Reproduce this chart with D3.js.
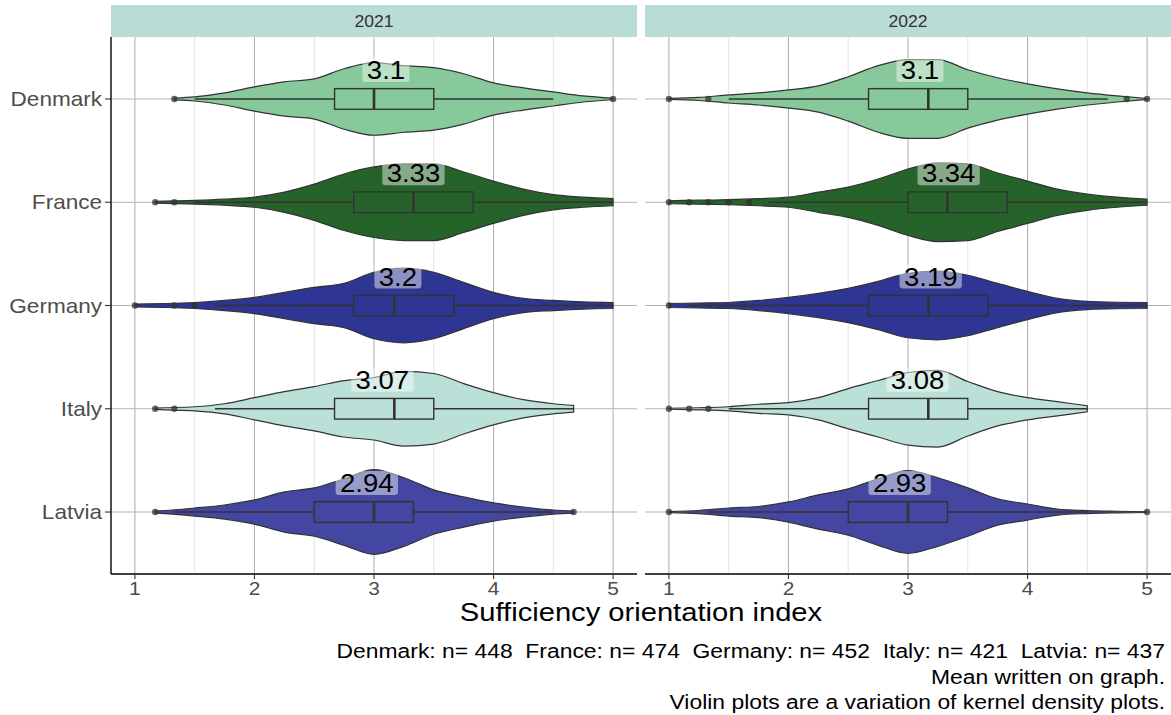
<!DOCTYPE html>
<html>
<head>
<meta charset="utf-8">
<script src="https://cdn.jsdelivr.net/npm/d3@7"></script>
<style>
  html, body { margin: 0; padding: 0; background: #ffffff; }
  svg { display: block; font-family: "Liberation Sans", Arial, Helvetica, sans-serif; }
  .pre { white-space: pre; }
</style>
</head>
<body>
<svg id="chart" width="1171" height="715"></svg>
<script>
// Countries (rows) and survey years (facets)
const countries = ["Denmark", "France", "Germany", "Italy", "Latvia"];
const years = ["2021", "2022"];
const sampleSizes = [448, 474, 452, 421, 437];

// Mean sufficiency orientation index per country, by year
const means2021 = [3.1, 3.33, 3.2, 3.07, 2.94];
const means2022 = [3.1, 3.34, 3.19, 3.08, 2.93];

// Kernel density estimates (relative units) on a common score grid
const scoreGrid = [1, 1.25, 1.5, 1.75, 2, 2.25, 2.5, 2.75, 3, 3.25, 3.5, 3.75, 4, 4.25, 4.5, 4.75, 5];
const density2021 = [
  [0, 0.3, 2, 6, 12, 17, 20, 30, 36, 33, 31, 25, 16, 11, 7, 3, 0.8],          // Denmark
  [0.5, 1.2, 1.8, 3, 5, 10, 18, 28, 35, 38, 38, 30, 21, 13, 7.5, 5, 3.5],      // France
  [1.5, 2, 3, 5, 8, 13, 18, 22, 33, 37, 33, 23, 13, 7, 5, 3.5, 3],             // Germany
  [0, 1, 2, 5, 11, 17, 22, 28, 31, 37, 35, 25, 16, 9, 5, 2.5, 0],              // Italy
  [0, 1.5, 4, 7, 12, 20, 24, 33, 42, 34, 22, 15, 9, 5, 2, 0.5, 0]              // Latvia
];
const density2022 = [
  [0.5, 1.5, 4, 6, 9, 13, 22, 33, 39, 39, 29, 21, 15, 10, 6, 3, 0.5],          // Denmark
  [1.5, 2, 2.5, 3.5, 5, 10, 15, 23, 33, 39, 38, 29, 21, 13, 8, 5, 3],          // France
  [2, 2.5, 3, 5, 8, 12, 17, 24, 32, 34, 30, 22, 14, 7, 4, 3.2, 3],             // Germany
  [0.5, 1, 2, 4.5, 6, 11, 20, 28, 36, 38, 27, 17, 11, 7, 3, 0, 0],             // Italy
  [0.5, 1.5, 4, 5.5, 10, 17, 23, 33, 41, 34, 24, 13, 8, 3, 1.5, 0.8, 0.3]      // Latvia
];

// Observed score ranges (violins are trimmed to these)
const range2021 = [[1.33, 5], [1.17, 5], [1, 5], [1.17, 4.67], [1.17, 4.67]];
const range2022 = [[1, 5], [1, 5], [1, 5], [1, 4.5], [1, 5]];

// Box plot statistics: [lower whisker, Q1, median, Q3, upper whisker]
const box2021 = [
  [1.5, 2.67, 3.0, 3.5, 4.5],
  [1.5, 2.83, 3.33, 3.83, 5.0],
  [1.67, 2.83, 3.17, 3.67, 5.0],
  [1.67, 2.67, 3.17, 3.5, 4.67],
  [1.33, 2.5, 3.0, 3.33, 4.5]
];
const box2022 = [
  [1.5, 2.67, 3.17, 3.5, 4.67],
  [1.83, 3.0, 3.33, 3.83, 5.0],
  [1.17, 2.67, 3.17, 3.67, 5.0],
  [1.5, 2.67, 3.17, 3.5, 4.5],
  [1.33, 2.5, 3.0, 3.33, 4.5]
];
const outliers2021 = [[1.33, 5.0], [1.17, 1.33], [1.0, 1.33, 1.5], [1.17, 1.33], [1.17, 4.67]];
const outliers2022 = [[1.0, 1.33, 4.83, 5.0], [1.0, 1.17, 1.33, 1.5, 1.67], [1.0], [1.0, 1.17, 1.33], [1.0, 5.0]];

const xTicks = [1, 2, 3, 4, 5];
const xMinorTicks = [1.5, 2.5, 3.5, 4.5];
const fillColors = ["#87c99a", "#25632a", "#2f3593", "#bae0d7", "#4347a1"];

const captionLines = [
  countries.map((c, i) => `${c}: n= ${sampleSizes[i]}`).join("  "),
  "Mean written on graph.",
  "Violin plots are a variation of kernel density plots."
];

// ---- layout ----
const svg = d3.select("#chart");
const panelTop = 37, panelBottom = 574;
const stripTop = 5;
const textStretch = 1.1;   // glyphs are set slightly wide
const ink = "#333333";

// text helper: anchored at (x, y), widened horizontally
function addText(parent, x, y, str, size, color, anchor) {
  const g = parent.append("g").attr("transform", `translate(${x},${y}) scale(${textStretch},1)`);
  const t = g.append("text").attr("x", 0).attr("y", 0)
    .attr("text-anchor", anchor || "middle").attr("font-size", size).attr("fill", color)
    .attr("xml:space", "preserve").attr("class", "pre").text(str);
  return { g, t };
}

const panels = [
  { year: years[0], x0: 111, x1: 637, density: density2021, range: range2021, box: box2021, outliers: outliers2021, means: means2021 },
  { year: years[1], x0: 645, x1: 1171, density: density2022, range: range2022, box: box2022, outliers: outliers2022, means: means2022 }
];

const y = d3.scalePoint().domain(countries).range([panelTop, panelBottom]).padding(0.6);
const step = y.step();
const allDensities = density2021.concat(density2022).flat();
const halfWidth = d3.scaleLinear().domain([0, d3.max(allDensities)]).range([0, 0.41 * step]);
const boxHalf = 0.1 * step;

panels.forEach((p, pi) => {
  const x = d3.scaleLinear().domain([0.8, 5.2]).range([p.x0, p.x1]);
  const g = svg.append("g");

  // strip header
  g.append("rect").attr("x", p.x0).attr("y", stripTop).attr("width", p.x1 - p.x0).attr("height", panelTop - stripTop)
    .attr("fill", "#badcd6");
  addText(g, (p.x0 + p.x1) / 2, (stripTop + panelTop) / 2 + 6, p.year, 16, ink);

  // grid
  g.selectAll(".minor").data(xMinorTicks).join("line")
    .attr("x1", d => x(d)).attr("x2", d => x(d)).attr("y1", panelTop).attr("y2", panelBottom)
    .attr("stroke", "#dedede").attr("stroke-width", 0.8);
  g.selectAll(".major").data(xTicks).join("line")
    .attr("x1", d => x(d)).attr("x2", d => x(d)).attr("y1", panelTop).attr("y2", panelBottom)
    .attr("stroke", "#b3b3b3").attr("stroke-width", 1.1);
  g.selectAll(".hgrid").data(countries).join("line")
    .attr("x1", p.x0).attr("x2", p.x1).attr("y1", d => y(d)).attr("y2", d => y(d))
    .attr("stroke", "#b3b3b3").attr("stroke-width", 1.1);

  // violins with box plots
  countries.forEach((c, ci) => {
    const cy = y(c);
    const dens = d3.scaleLinear().domain(scoreGrid).range(p.density[ci]);
    const [lo, hi] = p.range[ci];
    const pts = [lo].concat(scoreGrid.filter(s => s > lo + 0.03 && s < hi - 0.03), [hi]);
    const area = d3.area()
      .x(v => x(v))
      .y0(v => cy - halfWidth(dens(v)))
      .y1(v => cy + halfWidth(dens(v)))
      .curve(d3.curveMonotoneX);
    g.append("path").attr("d", area(pts))
      .attr("fill", fillColors[ci]).attr("stroke", ink).attr("stroke-width", 1.2);

    const [wl, q1, med, q3, wh] = p.box[ci];
    g.append("line").attr("x1", x(wl)).attr("x2", x(q1)).attr("y1", cy).attr("y2", cy)
      .attr("stroke", ink).attr("stroke-width", 1.4);
    g.append("line").attr("x1", x(q3)).attr("x2", x(wh)).attr("y1", cy).attr("y2", cy)
      .attr("stroke", ink).attr("stroke-width", 1.4);
    g.append("rect").attr("x", x(q1)).attr("y", cy - boxHalf).attr("width", x(q3) - x(q1)).attr("height", 2 * boxHalf)
      .attr("fill", "none").attr("stroke", ink).attr("stroke-width", 1.4);
    g.append("line").attr("x1", x(med)).attr("x2", x(med)).attr("y1", cy - boxHalf).attr("y2", cy + boxHalf)
      .attr("stroke", ink).attr("stroke-width", 2.6);
    g.selectAll(null).data(p.outliers[ci]).join("circle")
      .attr("cx", d => x(d)).attr("cy", cy).attr("r", 3.2)
      .attr("fill", ink).attr("fill-opacity", 0.75);
  });

  // mean labels
  countries.forEach((c, ci) => {
    const cy = y(c);
    const { g: lg, t } = addText(g, x(p.means[ci]), cy - 20, String(p.means[ci]), 25, "#000000");
    const bb = t.node().getBBox();
    lg.insert("rect", "text")
      .attr("x", bb.x - 4).attr("y", -21).attr("width", bb.width + 8).attr("height", 24)
      .attr("rx", 3).attr("fill", "#ffffff").attr("fill-opacity", 0.45);
  });

  // bottom axis
  g.append("line").attr("x1", p.x0).attr("x2", p.x1).attr("y1", panelBottom).attr("y2", panelBottom)
    .attr("stroke", "#000000").attr("stroke-width", 1.4);
  g.selectAll(".xtick").data(xTicks).join("line")
    .attr("x1", d => x(d)).attr("x2", d => x(d)).attr("y1", panelBottom).attr("y2", panelBottom + 5)
    .attr("stroke", ink).attr("stroke-width", 1.1);
  xTicks.forEach(d => addText(g, x(d), panelBottom + 21, String(d), 19, "#4d4d4d"));

  if (pi === 0) {
    g.append("line").attr("x1", p.x0).attr("x2", p.x0).attr("y1", panelTop).attr("y2", panelBottom)
      .attr("stroke", "#000000").attr("stroke-width", 1.4);
    g.selectAll(".ytick").data(countries).join("line")
      .attr("x1", p.x0 - 6).attr("x2", p.x0).attr("y1", d => y(d)).attr("y2", d => y(d))
      .attr("stroke", ink).attr("stroke-width", 1.1);
    countries.forEach(d => addText(g, p.x0 - 9, y(d) + 7, d, 20.5, "#4d4d4d", "end"));
  }
});

// axis title
addText(svg, 641, 621, "Sufficiency orientation index", 26.5, "#000000");

// caption
captionLines.forEach((line, i) => addText(svg, 1165, 658 + i * 25.5, line, 20.8, "#000000", "end"));
</script>
</body>
</html>
